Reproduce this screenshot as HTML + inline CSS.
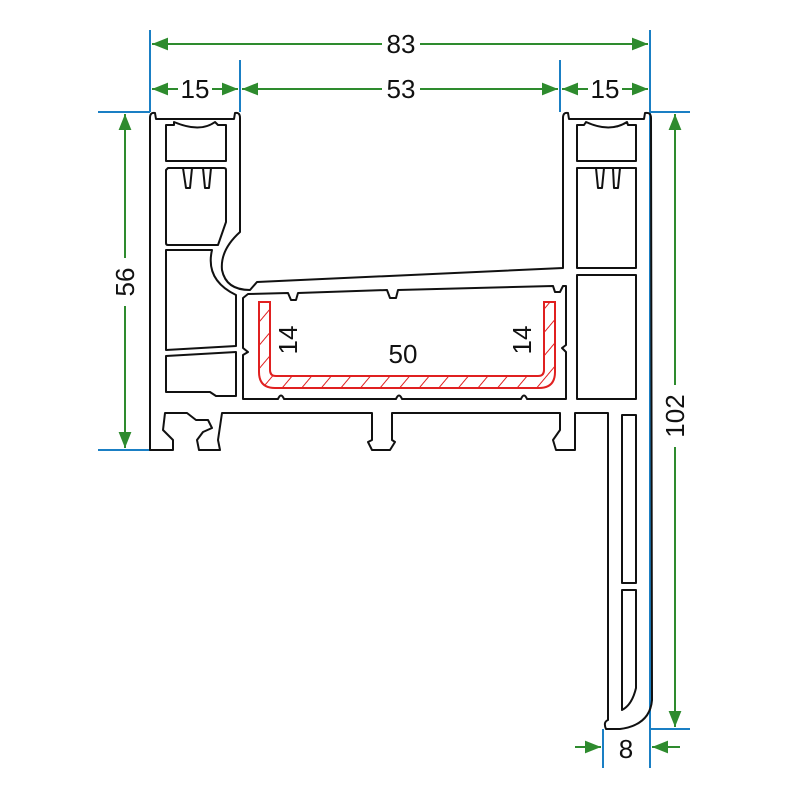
<!DOCTYPE html>
<html><head><meta charset="utf-8"><style>
html,body{margin:0;padding:0;background:#fff;}
svg{display:block;}
text{font-family:"Liberation Sans",sans-serif;font-size:26px;fill:#111;}
</style></head><body>
<svg width="800" height="800" viewBox="0 0 800 800" xmlns="http://www.w3.org/2000/svg">
<defs>
<marker id="a" viewBox="0 0 10 10" refX="10" refY="5" markerWidth="8" markerHeight="8" orient="auto-start-reverse"><path d="M0,1 L10,5 L0,9z" fill="#2e8b2e"/></marker>
<pattern id="h" width="15" height="15" patternUnits="userSpaceOnUse" patternTransform="rotate(40)"><line x1="0" y1="0" x2="0" y2="15" stroke="#e02020" stroke-width="2"/></pattern>
</defs>
<g stroke="#1a7fc4" stroke-width="2" fill="none">
<line x1="150" y1="30" x2="150" y2="112"/>
<line x1="240" y1="60" x2="240" y2="112"/>
<line x1="560" y1="60" x2="560" y2="112"/>
<line x1="650" y1="30" x2="650" y2="768"/>
<line x1="98" y1="112" x2="150" y2="112"/>
<line x1="650" y1="112" x2="690" y2="112"/>
<line x1="98" y1="450" x2="150" y2="450"/>
<line x1="650" y1="729" x2="690" y2="729"/>
<line x1="603" y1="729" x2="603" y2="768"/>
</g>
<g stroke="#2e8b2e" stroke-width="2" fill="none">
<line x1="152" y1="44" x2="382" y2="44" marker-start="url(#a)"/>
<line x1="420" y1="44" x2="648" y2="44" marker-end="url(#a)"/>
<line x1="152" y1="89" x2="178" y2="89" marker-start="url(#a)"/>
<line x1="212" y1="89" x2="238" y2="89" marker-end="url(#a)"/>
<line x1="242" y1="89" x2="382" y2="89" marker-start="url(#a)"/>
<line x1="420" y1="89" x2="558" y2="89" marker-end="url(#a)"/>
<line x1="562" y1="89" x2="588" y2="89" marker-start="url(#a)"/>
<line x1="622" y1="89" x2="648" y2="89" marker-end="url(#a)"/>
<line x1="125" y1="114" x2="125" y2="258" marker-start="url(#a)"/>
<line x1="125" y1="306" x2="125" y2="448" marker-end="url(#a)"/>
<line x1="675" y1="114" x2="675" y2="385" marker-start="url(#a)"/>
<line x1="675" y1="447" x2="675" y2="727" marker-end="url(#a)"/>
<line x1="575" y1="747" x2="601" y2="747" marker-end="url(#a)"/>
<line x1="680" y1="747" x2="652" y2="747" marker-end="url(#a)"/>
</g>
<text x="401" y="53" text-anchor="middle">83</text>
<text x="195" y="98" text-anchor="middle">15</text>
<text x="401" y="98" text-anchor="middle">53</text>
<text x="605" y="98" text-anchor="middle">15</text>
<text x="626" y="758" text-anchor="middle">8</text>
<text transform="translate(134,282) rotate(-90)" text-anchor="middle">56</text>
<text transform="translate(684,416) rotate(-90)" text-anchor="middle">102</text>
<g stroke="#111" stroke-width="2" fill="none" stroke-linejoin="round">
<path d="M150,450 L150,118 Q150,112 155,113 L156,119 L234,119 L235,113 Q240,112 240,118 L240,232 Q220,250 222,270 Q226,290 250,290 L257,282 L563,268 L563,118 Q563,112 568,113 L569,119 L644,119 L645,113 Q651,112 651,118 L652,700 Q650,725 620,729 L606,729 Q603,722 608,720 L608,413 L575,413 L575,450 L556,450 L553,440 L560,430 L560,413 L392,413 L392,440 L395,442 L390,450 L372,450 L368,442 L372,440 L372,413 L222,413 L218,440 L220,450 L199,450 L197,440 L203,432 L212,428 L208,420 L196,420 L187,413 L165,413 L163,430 L173,440 L173,450 Z"/>
<path d="M166,125 L174,125 L174,122 Q200,133 215,122 L218,125 L226,125 L226,161 L166,161 Z"/>
<path d="M168,168 L224,168 Q226,168 226,170 L226,222 L218,245 L168,245 Q166,245 166,243 L166,170 Z"/>
<path d="M183,168 L186,188 L190,188 L192,168 M203,168 L205,188 L209,188 L211,168"/>
<path d="M166,250 L212,250 Q205,280 236,295 L236,346 L166,350 Z"/>
<path d="M166,356 L236,352 L236,396 L216,396 L210,392 L166,392 Z"/>
<path d="M243,298 L248,294 L288,293 L291,300 L296,300 L298,293 L387,290 L390,298 L396,298 L398,290 L553,286 L555,292 L560,292 L563,286 L566,286 L566,345 L562,348 L566,352 L566,399 L527,399 Q524,392 521,399 L402,399 Q399,392 396,399 L284,399 Q281,392 278,399 L243,399 L243,355 L248,352 L243,348 Z"/>
<path d="M577,125 L584,125 L586,122 Q610,133 627,122 L628,125 L636,125 L636,161 L577,161 Z"/>
<path d="M577,168 L636,168 L636,268 L577,268 Z"/>
<path d="M596,168 L598,188 L602,188 L604,168 M613,168 L614,188 L618,188 L620,168"/>
<path d="M577,275 L636,275 L636,399 L577,399 Z"/>
<path d="M622,415 L636,415 L636,583 L622,583 Z"/>
<path d="M622,590 L636,590 L636,688 Q632,705 622,710 Z"/>
</g>
<path d="M259,302 L270,302 L270,370 Q270,376 276,376 L538,376 Q544,376 544,370 L544,302 L555,302 L555,372 Q555,388 539,388 L275,388 Q259,388 259,372 Z" fill="url(#h)" stroke="#e02020" stroke-width="2"/>
<text transform="translate(297,340) rotate(-90)" text-anchor="middle">14</text>
<text x="403" y="363" text-anchor="middle">50</text>
<text transform="translate(531,340) rotate(-90)" text-anchor="middle">14</text>
</svg>
</body></html>
